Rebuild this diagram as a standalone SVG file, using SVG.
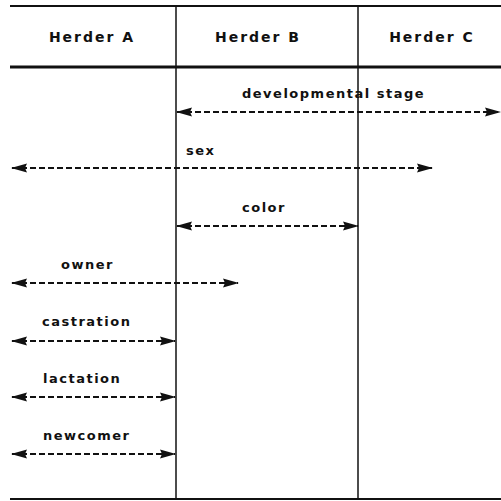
<svg xmlns="http://www.w3.org/2000/svg" width="501" height="501" viewBox="0 0 501 501">
<style>
.t{font-family:"DejaVu Sans",sans-serif;font-size:13px;font-weight:bold;fill:#111;letter-spacing:1.5px}
.h{text-anchor:middle;font-size:14px;letter-spacing:2px}
.rule{stroke:#111;fill:none}
.arr{stroke:#111;stroke-width:2;stroke-dasharray:6 3;fill:none;marker-start:url(#ah);marker-end:url(#ah)}
</style>
<defs>
<marker id="ah" viewBox="0 0 16 10" refX="15" refY="5" markerWidth="16" markerHeight="10" markerUnits="userSpaceOnUse" orient="auto-start-reverse">
<path d="M0,0.5 L16,5 L0,9.5 L2,5 Z" fill="#111"/>
</marker>
</defs>
<g id="frame">
<line class="rule" x1="10" y1="6" x2="501" y2="6" stroke-width="2"/>
<line class="rule" x1="10" y1="67" x2="501" y2="67" stroke-width="3"/>
<line class="rule" x1="10" y1="499" x2="501" y2="499" stroke-width="2"/>
<line class="rule" x1="176" y1="6" x2="176" y2="499" stroke-width="1.5"/>
<line class="rule" x1="358" y1="6" x2="358" y2="499" stroke-width="1.5"/>
</g>
<g id="herderA"><text class="t h" x="92" y="42">Herder A</text></g>
<g id="herderB"><text class="t h" x="258" y="42">Herder B</text></g>
<g id="herderC"><text class="t h" x="432" y="42">Herder C</text></g>
<g id="labels">
<text class="t" x="242" y="98">developmental stage</text>
<text class="t" x="186" y="155">sex</text>
<text class="t" x="242" y="212">color</text>
<text class="t" x="61" y="269">owner</text>
<text class="t" x="42" y="326">castration</text>
<text class="t" x="43" y="383">lactation</text>
<text class="t" x="43" y="440">newcomer</text>
</g>
<g id="connectors">
<line class="arr" x1="177" y1="112" x2="500" y2="112"/>
<line class="arr" x1="12" y1="168" x2="432" y2="168"/>
<line class="arr" x1="177" y1="226" x2="358" y2="226"/>
<line class="arr" x1="12" y1="283" x2="238" y2="283"/>
<line class="arr" x1="12" y1="341" x2="175" y2="341"/>
<line class="arr" x1="12" y1="397" x2="175" y2="397"/>
<line class="arr" x1="12" y1="454" x2="175" y2="454"/>
</g>
</svg>
